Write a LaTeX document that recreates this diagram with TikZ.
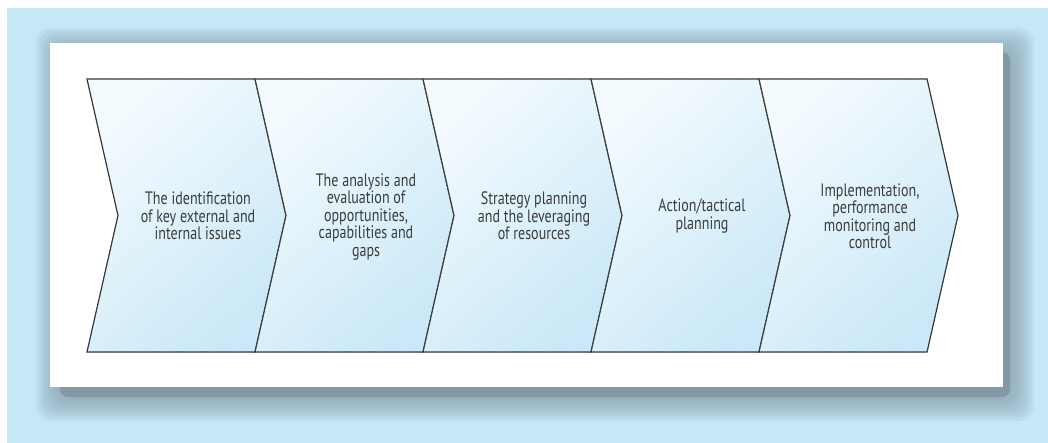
\documentclass[tikz,border=0pt]{standalone}
\usepackage{fontspec}
\setmainfont[FakeStretch=0.78]{PT Sans}
\usetikzlibrary{patterns}
\usepackage{xcolor}
\definecolor{skyback}{HTML}{C5E8F7}
\definecolor{panelshadow}{HTML}{8399A6}
\definecolor{chevlight}{HTML}{F3FAFE}
\definecolor{chevdark}{HTML}{C6E7F7}
\definecolor{chevline}{HTML}{2E2E2E}
\definecolor{chevtext}{HTML}{3C3C3C}

\tikzset{
  chevron/.style={draw=chevline, line width=1.2pt, line join=miter,
    shading=axis, left color=chevlight, right color=chevdark, shading angle=42},
  chevronlabel/.style={align=center, text=chevtext, inner sep=0pt,
    font=\fontsize{18}{17.5}\selectfont}
}

\begin{document}
\begin{tikzpicture}[x=1pt,y=-1pt]
		\useasboundingbox (0,0) rectangle (1048,443);
		\fill[skyback] (7,8) rectangle (1048,443);
		%
		\foreach \r in {3,6,...,24}
			\fill[panelshadow,opacity=0.12,rounded corners=14] (60-\r,52-\r) rectangle (1010+\r,397+\r);
		\fill[panelshadow,rounded corners=8] (60,52) rectangle (1010,397);
		\fill[white] (50,43) rectangle (1003,387);
		%
		\draw[chevron] (87,79) -- (255,79) -- (286,215.5) -- (255,352) -- (87,352) -- (118,215.5) -- cycle;
		\draw[chevron] (255,79) -- (423,79) -- (454,215.5) -- (423,352) -- (255,352) -- (286,215.5) -- cycle;
		\draw[chevron] (423,79) -- (591,79) -- (622,215.5) -- (591,352) -- (423,352) -- (454,215.5) -- cycle;
		\draw[chevron] (591,79) -- (759,79) -- (790,215.5) -- (759,352) -- (591,352) -- (622,215.5) -- cycle;
		\draw[chevron] (759,79) -- (927,79) -- (958,215.5) -- (927,352) -- (759,352) -- (790,215.5) -- cycle;
		%
		\fill[pattern=north east lines, pattern color=white, opacity=0.25] (87,79) -- (927,79) -- (958,215.5) -- (927,352) -- (87,352) -- (118,215.5) -- cycle;
		%
		\node[chevronlabel] (issues) at (198,216) {The identification\\of key external and\\internal issues};
		\node[chevronlabel] (analysis) at (366,217) {The analysis and\\evaluation of\\opportunities,\\capabilities and\\gaps};
		\node[chevronlabel] (strategy) at (534,216) {Strategy planning\\and the leveraging\\of resources};
		\node[chevronlabel] (tactical) at (702,216) {Action/tactical\\planning};
		\node[chevronlabel] (control) at (870,216) {Implementation,\\performance\\monitoring and\\control};
	\end{tikzpicture}
\end{document}
